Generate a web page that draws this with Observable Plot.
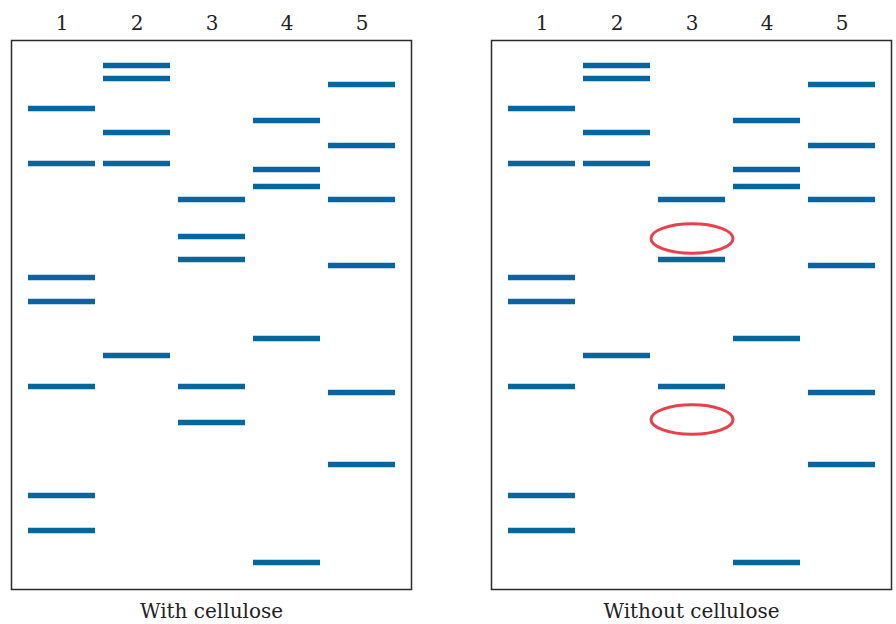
<!DOCTYPE html>
<html>
<head>
<meta charset="utf-8">
<script src="https://cdn.jsdelivr.net/npm/d3@7"></script>
<script src="https://cdn.jsdelivr.net/npm/@observablehq/plot@0.6"></script>
<style>
  html, body { margin: 0; padding: 0; background: #fff; }
  #chart svg { display: block; }
</style>
</head>
<body>
<div id="chart"></div>
<script>
// Conditions (panels) and lanes
const conditions = ["With cellulose", "Without cellulose"];
const lanes = ["1", "2", "3", "4", "5"];

// Band migration distances (from top of gel), per lane, with cellulose
const lane1 = [68, 123, 237, 261, 346, 455, 490];
const lane2 = [25, 38, 92, 123, 315];
const lane3 = [159, 196, 219, 346, 382];
const lane4 = [80, 129, 146, 298, 522];
const lane5 = [44, 105, 159, 225, 352, 424];

// Bands missing in lane 3 without cellulose (circled)
const missingLane = "3";
const missingBands = [196, 382];
const circlePositions = [198, 379];

const gelLength = 549;

// Build the band table
const laneBands = [lane1, lane2, lane3, lane4, lane5];
const bands = [];
for (const cond of conditions) {
  laneBands.forEach((vals, i) => {
    for (const v of vals) {
      const lane = lanes[i];
      if (cond === "Without cellulose" && lane === missingLane && missingBands.includes(v)) continue;
      bands.push({condition: cond, lane, distance: v});
    }
  });
}
const circles = circlePositions.map(d => ({condition: "Without cellulose", lane: missingLane, distance: d}));

// Ellipse symbol drawn with cubic Béziers
const ellipse = {
  draw(context, size) {
    const r = Math.sqrt(size / Math.PI);
    const rx = r, ry = r * 0.36, k = 0.5523;
    context.moveTo(rx, 0);
    context.bezierCurveTo(rx, ry * k, rx * k, ry, 0, ry);
    context.bezierCurveTo(-rx * k, ry, -rx, ry * k, -rx, 0);
    context.bezierCurveTo(-rx, -ry * k, -rx * k, -ry, 0, -ry);
    context.bezierCurveTo(rx * k, -ry, rx, -ry * k, rx, 0);
    context.closePath();
  }
};

const chart = Plot.plot({
  width: 896,
  height: 624,
  marginTop: 40,
  marginBottom: 35,
  marginLeft: 11,
  marginRight: 5,
  style: {fontFamily: "'DejaVu Serif', 'Liberation Serif', serif", fontSize: "20px", color: "#222", background: "#fff"},
  fx: {domain: conditions, paddingInner: 80 / 480, paddingOuter: 0, label: null, axis: "bottom", tickSize: 0, tickPadding: 14},
  x: {domain: lanes, paddingInner: 0.111, paddingOuter: 0.222, label: null, axis: "top", tickSize: 0, tickPadding: 11},
  y: {domain: [0, gelLength], reverse: true, axis: null},
  marks: [
    Plot.frame({stroke: "#2a2a2a", strokeWidth: 1.5}),
    Plot.tickY(bands, {fx: "condition", x: "lane", y: "distance", stroke: "#0765a0", strokeWidth: 5.5}),
    Plot.dot(circles, {fx: "condition", x: "lane", y: "distance", r: 41, symbol: ellipse, stroke: "#e8404c", strokeWidth: 3, fill: "none"})
  ]
});

document.getElementById("chart").appendChild(chart);
</script>
</body>
</html>
